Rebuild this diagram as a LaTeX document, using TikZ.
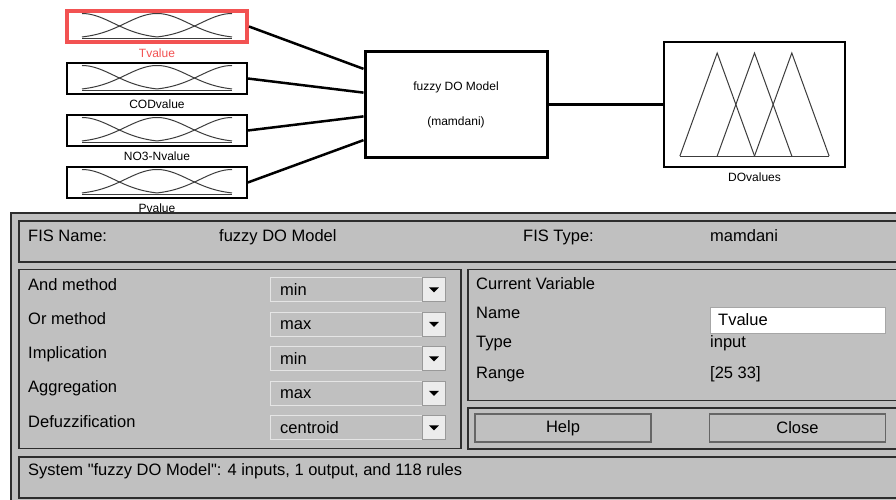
\documentclass[tikz,border=0pt]{standalone}
\usepackage{fontspec}
\setmainfont{Liberation Sans}[Ligatures=TeXOff]
\usetikzlibrary{calc,positioning}

\definecolor{guigray}{RGB}{192,192,192}
\definecolor{framegray}{RGB}{45,45,45}
\definecolor{mfcol}{RGB}{60,60,60}
\definecolor{selred}{RGB}{242,82,82}
\definecolor{btnface}{RGB}{236,236,236}

\tikzset{%
  >=latex,
  mfbox/.style={draw=black, line width=1.6pt, fill=white, minimum width=180pt,
    minimum height=31pt, inner sep=0pt},
  selbox/.style={mfbox, draw=selred, line width=4pt},
  mfname/.style={font=\fontsize{12}{14}\selectfont, inner sep=0pt},
  mfline/.style={mfcol, line width=1pt},
  wire/.style={line width=2.5pt},
  guipanel/.style={draw=framegray, line width=1.6pt, fill=guigray, anchor=north west, inner sep=0pt},
  guitext/.style={font=\fontsize{16.5}{19}\selectfont, anchor=base west, inner sep=0pt},
  dropfield/.style={draw=white!80!gray, line width=1pt, fill=guigray, anchor=north west,
    minimum width=175pt, minimum height=24pt, inner sep=0pt},
  arrowbtn/.style={draw=gray!80, line width=0.8pt, fill=btnface, anchor=north west,
    minimum width=23pt, minimum height=24pt, inner sep=0pt},
  pushbtn/.style={draw=black!60, line width=1.2pt, fill=guigray, minimum width=176pt,
    minimum height=28pt, font=\fontsize{16.5}{19}\selectfont}
}

\begin{document}
\begin{tikzpicture}[x=1pt,y=-1pt]
  \fill[white] (0,0) rectangle (896,500);
  \useasboundingbox (0,0) rectangle (896,500);

  % the FIS block and the output
  \node[draw, line width=3pt, fill=white, minimum width=182pt, minimum height=105pt] (fis) at (456,104.5) {};
  \node[mfname, anchor=base] (fistitle) at ($(fis.center)+(0,-13.5)$) {fuzzy DO Model};
  \node[mfname, anchor=base] (fiskind) at ($(fis.center)+(0,20.5)$) {(mamdani)};

  \node[mfbox, line width=2pt, minimum width=181pt, minimum height=125pt] (do) at (754.5,104.5) {};
  \foreach \k in {-37.3,0,37.3}
    \draw[mfline] ($(do.center)+(\k-37.3,51.5)$) -- ($(do.center)+(\k,-51.5)$) -- ($(do.center)+(\k+37.3,51.5)$);
  \draw[mfline] ($(do.center)+(-74.6,51.5)$) -- ($(do.center)+(74.6,51.5)$);
  \node[mfname, below=4.5pt of do] (dolab) {DOvalues};
  \draw[wire] (fis.east) -- (do.west);

  % inputs
  \foreach \n/\lab/\yc/\s/\c/\f in {tv/Tvalue/26.5/selbox/selred/0.17, cod/CODvalue/78.5/mfbox/black/0.39,
      no/NO3-Nvalue/130.5/mfbox/black/0.61, pv/Pvalue/182.5/mfbox/black/0.83}
  {
    \node[\s] (\n) at (157,\yc) {};
    \draw[mfline] plot[domain=-75:0, samples=30] ({157+\x},{\yc+12-25*exp(-(\x+75)*(\x+75)/2022)});
    \draw[mfline] plot[domain=-75:75, samples=50] ({157+\x},{\yc+12-25*exp(-(\x)*(\x)/2022)});
    \draw[mfline] plot[domain=0:75, samples=30] ({157+\x},{\yc+12-25*exp(-(\x-75)*(\x-75)/2022)});
    \draw[mfline] (82,\yc+12) -- (232,\yc+12);
    \node[mfname, text=\c, below=4.5pt of \n] (\n-lab) {\lab};
    \draw[wire] (\n.east) -- ($(fis.north west)!\f!(fis.south west)$);
  }

  % the editor window
  \node[guipanel, line width=2pt, minimum width=900pt, minimum height=300pt] (win) at (10,212) {};
  \node[guipanel, minimum width=877.5pt, minimum height=41pt] (namebar) at (18,220) {};
  \node[guipanel, minimum width=442pt, minimum height=179pt] (methods) at (18,268.5) {};
  \node[guipanel, minimum width=429pt, minimum height=131pt] (curvar) at (467,268.5) {};
  \node[guipanel, minimum width=429pt, minimum height=41pt] (btnbar) at (467,407) {};
  \node[guipanel, minimum width=877.5pt, minimum height=41pt] (status) at (18,456) {};

  \node[guitext] (namekey) at (28,241) {FIS Name:};
  \node[guitext] (nameval) at (219,241) {fuzzy DO Model};
  \node[guitext] (typekey) at (523,241) {FIS Type:};
  \node[guitext] (typeval) at (710,241) {mamdani};

  \foreach \i/\key/\val in {0/And method/min, 1/Or method/max, 2/Implication/min,
      3/Aggregation/max, 4/Defuzzification/centroid}
  {
    \node[guitext] (key\i) at (28,290+34.3*\i) {\key};
    \node[dropfield] (drop\i) at (270,277+34.5*\i) {};
    \node[guitext] (val\i) at (280,295+34.5*\i) {\val};
    \node[arrowbtn] (arr\i) at (422,277+34.5*\i) {};
    \fill ($(arr\i.center)+(-5,-2)$) -- ($(arr\i.center)+(5,-2)$) -- ($(arr\i.center)+(0,3)$) -- cycle;
  }

  \node[guitext] (cvtitle) at (476,289) {Current Variable};
  \node[guitext] (cvname) at (476,318) {Name};
  \node[guitext] (cvtype) at (476,347) {Type};
  \node[guitext] (cvrange) at (476,378) {Range};
  \node[draw=gray!70, line width=1pt, fill=white, minimum width=175pt, minimum height=26pt,
    anchor=north west, inner sep=0pt] (namefield) at (710,306.5) {};
  \node[guitext] (cvnameval) at (718,325) {Tvalue};
  \node[guitext] (cvtypeval) at (710,347) {input};
  \node[guitext] (cvrangeval) at (710,378.5) {[25 33]};

  \node[pushbtn] (help) at (563,428) {Help};
  \node[pushbtn] (close) at (797.5,428) {Close};

  \node[guitext] (statustext) at (28,475) {System "fuzzy DO Model": 4 inputs, 1 output, and 118 rules};
\end{tikzpicture}
\end{document}
